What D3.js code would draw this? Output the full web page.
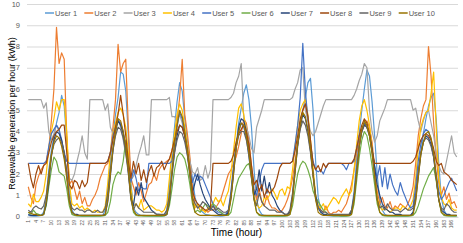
<!DOCTYPE html>
<html>
<head>
<meta charset="utf-8">
<script src="https://cdn.jsdelivr.net/npm/d3@7"></script>
<style>
  body { margin: 0; background: #fff; }
  text { font-family: "Liberation Sans", Arial, sans-serif; }
</style>
</head>
<body>
<div id="chart"></div>
<script>
// hourly renewable generation (kWh), 7 days x 24 hours per user
const users = ["User 1", "User 2", "User 3", "User 4", "User 5", "User 6", "User 7", "User 8", "User 9", "User 10"];
const colors = ["#5B9BD5", "#ED7D31", "#A5A5A5", "#FFC000", "#4472C4", "#70AD47", "#264478", "#9E480E", "#636363", "#997300"];
const yTicks = [0, 1, 2, 3, 4, 5, 6, 7, 8, 9, 10];
const hours = d3.range(1, 169);

const user1 = [
  0.05,0.03,0.02,0.02,0.03,0.05,0.2,0.9,2.2,3.1,3.8,4.4,4.9,5.7,5.2,3.6,1.4,0.3,0.1,0.05,0.03,0.02,0.02,0.02,
  0.02,0.02,0.02,0.03,0.03,0.05,0.3,1.2,2.6,3.8,4.8,5.6,6.8,6.7,5.9,3.8,1.6,0.4,0.2,0.1,0.05,0.05,0.04,0.03,
  0.03,0.03,0.02,0.02,0.02,0.04,0.3,1.4,3.0,4.2,5.4,6.3,5.9,4.6,3.6,2.6,1.8,0.9,0.5,0.3,0.2,0.1,0.08,0.05,
  0.04,0.03,0.03,0.02,0.03,0.05,0.2,0.9,2.2,3.3,4.4,5.1,5.8,6.2,5.5,4.2,2.2,0.8,0.3,0.1,0.05,0.04,0.03,0.03,
  0.03,0.02,0.02,0.02,0.03,0.05,0.2,1.0,2.3,3.4,4.3,5.0,5.6,6.3,6.5,5.0,2.6,0.9,0.3,0.1,0.05,0.04,0.03,0.03,
  0.03,0.03,0.02,0.02,0.03,0.05,0.3,1.2,2.7,3.9,5.0,6.0,6.9,6.6,5.4,3.8,2.0,0.7,0.3,0.1,0.05,0.04,0.03,0.03,
  0.03,0.03,0.02,0.02,0.03,0.05,0.2,0.9,2.1,3.0,3.9,4.6,5.2,5.6,5.8,4.6,2.5,0.9,0.3,0.1,0.05,0.04,0.03,0.03
];
const user2 = [
  1.4,0.9,0.6,1.5,1.9,2.2,2.4,2.6,3.2,4.5,6.0,8.9,7.2,7.7,7.4,3.8,1.5,1.7,1.3,0.8,1.2,0.6,0.9,0.5,
  0.5,0.8,1.0,1.3,1.8,2.1,2.4,2.5,3.0,4.2,5.5,8.1,6.8,7.2,7.4,4.2,1.8,1.4,1.0,1.6,1.2,0.7,1.1,1.5,
  1.6,2.0,1.7,2.2,2.4,2.5,2.6,2.7,3.1,3.6,4.5,5.6,7.4,4.8,3.9,2.8,1.3,0.6,0.4,0.5,0.3,0.3,0.2,0.3,
  0.3,0.4,0.6,0.8,1.2,1.6,2.0,2.2,2.5,2.8,3.3,3.9,4.6,4.4,3.6,2.4,1.3,0.8,1.3,0.7,0.5,1.0,0.6,0.4,
  0.4,0.3,0.2,0.3,0.5,0.8,1.2,1.8,2.6,3.5,4.4,5.0,5.3,4.6,3.4,2.0,1.0,0.5,0.3,0.2,0.5,0.2,0.1,0.2,
  0.2,0.3,0.2,0.4,0.6,1.0,1.5,2.2,3.0,3.6,4.0,4.3,4.5,4.2,3.5,2.3,1.2,0.6,0.9,0.5,0.4,0.7,0.3,0.5,
  0.4,0.6,0.5,0.4,0.6,0.9,1.4,2.5,3.8,4.6,5.2,5.5,8.0,6.6,4.4,2.8,1.6,1.0,1.4,0.8,1.1,0.6,0.7,0.4
];
const user3 = [
  5.5,5.5,5.5,5.5,5.5,5.5,5.1,5.35,4.0,3.6,3.9,4.3,4.0,3.5,2.8,2.2,1.8,1.7,2.0,2.6,3.1,3.8,3.0,2.7,
  5.5,5.5,5.5,5.5,5.5,5.5,5.0,5.3,4.2,3.9,4.3,4.6,4.2,3.6,2.9,2.3,1.7,1.9,2.4,2.9,3.3,3.8,2.9,2.9,
  5.5,5.5,5.5,5.5,5.5,5.5,5.5,5.6,4.7,4.7,4.5,4.8,4.4,3.8,3.3,2.6,2.1,2.0,2.3,1.7,1.8,2.4,1.8,2.2,
  5.5,5.5,5.5,5.5,5.5,5.5,5.5,5.6,5.8,6.3,6.6,7.2,4.6,4.2,3.8,3.2,3.0,4.2,4.6,5.0,5.5,5.5,5.5,5.5,
  5.5,5.5,5.5,5.5,5.5,5.5,5.5,5.6,6.0,6.3,6.9,7.0,5.0,4.5,4.0,3.8,4.0,4.4,4.8,5.2,5.5,5.5,5.5,5.5,
  5.5,5.5,5.5,5.5,5.5,5.5,5.5,5.7,6.0,6.4,6.7,7.2,7.0,5.0,4.0,3.5,3.8,4.5,4.8,5.1,5.5,5.5,5.5,5.5,
  5.5,5.5,5.5,5.5,5.5,5.5,5.0,5.1,4.5,4.0,4.5,4.9,5.0,4.4,3.8,3.0,2.4,2.1,2.0,2.6,3.2,3.8,3.0,2.8
];
const user4 = [
  0.6,0.45,1.05,0.7,0.7,0.9,1.2,2.0,3.2,4.0,4.6,5.4,5.0,5.5,5.5,3.9,1.6,0.6,0.5,0.6,0.4,0.5,0.3,0.4,
  0.3,0.2,0.3,0.2,0.2,0.2,0.5,1.6,3.0,3.9,4.4,4.9,5.1,4.8,4.2,3.0,1.3,0.5,0.6,0.4,0.8,0.3,0.4,0.5,
  0.5,0.4,0.3,0.3,0.2,0.3,0.6,1.8,3.0,3.9,4.8,5.3,5.0,4.2,3.3,2.2,1.0,0.4,0.6,0.3,0.3,0.2,0.4,0.5,
  0.6,0.9,0.7,0.8,0.5,0.9,1.2,2.0,3.1,4.2,5.1,5.3,4.8,4.0,3.1,2.0,0.9,0.6,0.4,0.5,0.9,0.8,1.0,1.3,
  1.1,0.8,1.2,1.3,1.0,1.4,1.3,2.2,3.3,4.3,5.0,5.3,5.5,4.8,3.6,2.3,1.0,0.5,0.4,0.6,0.3,0.5,0.7,0.9,
  0.8,0.6,0.9,1.1,1.3,1.0,1.2,2.2,3.4,4.5,5.2,5.5,5.0,4.3,3.2,2.0,0.9,0.5,0.3,0.4,0.3,0.2,0.3,0.4,
  0.4,0.3,0.5,0.4,0.3,0.5,0.8,1.8,3.2,4.2,4.6,4.9,5.0,5.8,6.8,4.2,1.8,0.9,0.6,0.5,0.8,0.4,0.3,0.3
];
const user5 = [
  2.5,2.5,2.5,2.5,2.5,2.5,2.5,2.6,3.3,3.9,4.1,4.3,4.1,3.6,3.0,2.6,2.5,2.5,2.5,2.5,2.5,2.5,2.5,2.5,
  2.5,2.5,2.5,2.5,2.5,2.5,2.5,2.6,3.0,3.8,4.2,4.5,4.4,4.0,3.2,2.3,1.6,2.2,1.8,1.2,1.4,1.3,1.3,2.5,
  2.5,2.5,2.5,2.5,2.5,2.5,2.5,2.5,2.6,3.4,4.2,4.9,4.6,3.8,2.9,2.2,1.6,2.0,1.7,1.9,1.8,1.5,1.2,0.9,
  0.6,0.3,0.2,0.2,0.1,0.1,0.3,1.2,2.4,3.3,4.0,4.4,4.2,3.7,2.8,1.8,1.2,1.0,1.6,2.2,2.5,2.5,2.5,2.5,
  2.5,2.5,2.5,2.5,2.5,2.5,2.5,2.6,3.4,4.3,5.6,8.15,5.9,4.6,3.4,2.6,2.2,2.1,2.2,2.0,2.3,2.5,2.5,2.5,
  2.5,2.5,2.5,2.4,2.2,2.5,2.5,2.6,3.2,3.8,4.1,4.4,4.2,3.8,3.1,2.4,1.8,2.4,1.4,2.3,1.3,2.0,1.5,1.2,
  1.0,1.6,1.2,0.9,0.6,0.4,0.5,1.4,2.6,3.4,3.9,4.1,4.0,3.6,2.9,2.0,1.2,0.8,1.0,1.3,1.6,1.8,1.5,1.2
];
const user6 = [
  0.2,0.1,0.3,0.15,0.1,0.05,0.1,0.5,1.4,2.2,2.8,2.6,2.1,2.0,1.9,1.3,0.5,0.1,0.05,0.03,0.03,0.02,0.02,0.02,
  0.02,0.02,0.02,0.02,0.02,0.03,0.05,0.2,0.7,1.5,1.9,2.1,2.0,2.6,3.6,2.4,0.9,0.2,0.05,0.03,0.03,0.02,0.02,0.02,
  0.02,0.02,0.02,0.02,0.02,0.03,0.1,0.5,1.3,2.2,2.8,3.0,2.9,2.7,2.2,1.5,0.6,0.2,0.3,0.2,0.4,0.6,0.5,0.4,
  0.6,0.5,0.3,0.2,0.1,0.05,0.05,0.2,0.8,1.4,1.8,2.0,2.2,2.4,2.5,1.9,0.8,0.2,0.05,0.03,0.02,0.02,0.02,0.02,
  0.02,0.02,0.02,0.02,0.02,0.03,0.1,0.5,1.3,2.0,2.4,2.6,2.5,2.2,1.8,1.2,0.9,0.7,0.5,0.3,0.2,0.1,0.05,0.03,
  0.03,0.03,0.02,0.02,0.02,0.03,0.1,0.6,1.7,2.8,3.6,4.0,3.8,3.2,2.4,1.5,0.6,0.2,0.05,0.03,0.02,0.02,0.02,0.02,
  0.02,0.02,0.02,0.02,0.02,0.03,0.05,0.2,0.5,0.9,1.3,1.6,1.9,2.1,2.3,1.7,0.8,0.2,0.05,0.03,0.02,0.02,0.02,0.02
];
const user7 = [
  0.1,0.05,0.05,0.05,0.05,0.05,0.1,0.6,1.6,2.8,3.6,4.0,3.9,3.6,3.0,2.0,0.8,0.2,0.1,0.1,0.05,0.05,0.05,0.05,
  0.05,0.05,0.05,0.05,0.05,0.05,0.1,0.7,1.9,3.1,4.0,4.5,4.3,3.9,3.2,2.1,0.9,0.5,1.4,1.0,1.6,0.9,0.7,0.5,
  0.3,0.2,0.1,0.1,0.05,0.05,0.1,0.7,1.9,3.0,3.8,4.3,4.2,3.8,3.0,2.0,1.1,1.6,2.0,1.5,1.1,0.8,0.6,0.4,
  0.3,0.2,0.1,0.1,0.05,0.05,0.2,0.9,2.0,3.2,4.2,4.6,4.5,4.0,3.1,2.0,1.0,1.3,2.2,1.2,1.9,1.1,1.6,1.0,
  0.8,0.5,0.3,0.2,0.1,0.1,0.2,0.9,2.1,3.3,4.2,4.8,4.6,4.0,3.1,2.0,1.0,0.4,0.2,0.1,0.1,0.05,0.05,0.05,
  0.05,0.05,0.05,0.05,0.05,0.05,0.2,0.9,2.1,3.3,4.0,4.3,4.2,3.9,3.2,2.3,1.5,1.0,0.6,0.4,0.3,0.2,0.2,0.1,
  0.1,0.1,0.05,0.05,0.05,0.05,0.2,0.8,1.9,2.9,3.5,3.8,3.7,3.4,2.8,1.8,0.8,0.3,0.2,0.1,0.1,0.05,0.05,0.05
];
const user8 = [
  2.5,1.8,1.35,2.0,2.4,2.0,2.4,2.5,3.0,3.5,3.8,4.0,4.1,4.3,4.3,3.0,1.5,1.3,1.7,1.6,1.3,1.7,1.4,1.6,
  2.5,2.5,2.5,2.5,2.5,2.5,2.5,2.6,3.0,3.6,4.2,4.8,5.7,4.8,3.8,2.6,1.8,2.6,2.0,2.5,1.7,2.2,1.6,2.1,
  2.4,1.9,2.3,2.4,2.6,2.2,2.5,2.7,3.1,3.6,4.0,4.3,4.2,3.8,3.2,2.2,1.2,0.8,0.6,0.5,0.4,0.3,0.3,0.4,
  2.5,2.5,2.5,2.5,2.5,2.5,2.5,2.6,2.9,3.5,3.9,4.1,4.3,4.0,3.4,2.4,1.5,1.7,1.2,1.5,0.9,1.3,1.1,1.2,
  1.4,1.8,2.3,2.5,2.5,2.5,2.5,2.6,3.1,3.8,4.6,5.0,5.3,4.7,3.6,2.5,2.2,2.4,2.1,2.5,2.3,2.5,2.5,2.5,
  2.5,2.5,2.5,2.5,2.5,2.5,2.5,2.7,3.2,3.8,4.3,4.6,4.4,3.9,3.1,2.5,2.5,2.5,2.5,2.5,2.5,2.5,2.5,2.5,
  2.5,2.5,2.5,2.5,2.5,2.5,2.6,2.8,3.2,3.6,3.8,3.9,3.8,3.6,3.2,2.6,2.4,2.5,2.1,2.0,1.9,1.7,1.6,1.5
];
const user9 = [
  0.3,0.2,0.4,0.5,0.4,0.35,0.5,1.0,2.0,2.9,3.4,3.6,3.7,3.5,3.0,2.0,0.8,0.4,0.3,0.4,0.3,0.3,0.2,0.3,
  0.3,0.2,0.2,0.3,0.2,0.2,0.4,1.1,2.2,3.1,3.8,4.2,4.1,3.7,3.0,2.0,0.8,0.3,0.6,0.4,0.3,0.2,0.2,0.2,
  0.2,0.2,0.1,0.1,0.1,0.1,0.3,1.0,2.1,3.0,3.6,4.0,3.9,3.5,2.9,1.9,0.9,0.6,0.4,0.5,0.7,0.6,0.4,0.3,
  0.5,0.3,0.4,0.3,0.2,0.2,0.3,1.0,2.2,3.2,3.8,4.0,4.0,3.6,2.9,1.8,0.8,0.5,1.1,0.7,0.5,0.4,0.3,0.3,
  0.3,0.2,0.2,0.2,0.1,0.1,0.3,1.1,2.3,3.4,4.1,4.5,4.3,3.8,3.0,1.9,0.8,0.4,0.3,0.2,0.2,0.1,0.1,0.1,
  0.1,0.1,0.1,0.1,0.1,0.1,0.3,1.0,2.2,3.3,4.0,4.4,4.2,3.8,3.0,1.9,0.8,0.4,0.5,0.3,0.6,0.4,0.3,0.3,
  0.3,0.2,0.3,0.4,0.3,0.3,0.4,1.0,2.1,3.0,3.5,3.7,3.6,3.3,2.8,1.8,0.8,0.4,0.3,0.6,0.5,0.3,0.2,0.2
];
const user10 = [
  0.2,0.15,0.1,0.1,0.05,0.05,0.1,0.7,1.8,2.9,3.5,3.8,3.7,3.3,2.7,1.8,0.7,0.2,0.1,0.05,0.05,0.05,0.05,0.05,
  0.05,0.05,0.05,0.05,0.05,0.05,0.1,0.8,2.0,3.2,4.0,4.6,4.5,4.0,3.3,2.2,0.9,0.3,0.1,0.05,0.05,0.05,0.05,0.05,
  0.05,0.05,0.05,0.05,0.05,0.05,0.1,0.8,2.1,3.4,4.3,5.0,4.7,4.0,3.1,2.0,0.8,0.2,0.1,0.05,0.05,0.05,0.05,0.05,
  0.05,0.05,0.05,0.05,0.05,0.05,0.1,0.8,2.0,3.2,4.0,4.4,4.3,3.8,3.0,1.9,0.8,0.2,0.1,0.05,0.05,0.05,0.05,0.05,
  0.05,0.05,0.05,0.05,0.05,0.05,0.1,0.8,2.1,3.4,4.3,4.9,4.7,4.1,3.2,2.0,0.8,0.2,0.1,0.05,0.05,0.05,0.05,0.05,
  0.05,0.05,0.05,0.05,0.05,0.05,0.1,0.8,2.0,3.3,4.1,4.5,4.3,3.8,3.0,1.9,0.8,0.2,0.1,0.05,0.05,0.05,0.05,0.05,
  0.05,0.05,0.05,0.05,0.05,0.05,0.1,0.7,1.8,2.9,3.5,3.9,4.0,3.7,3.0,1.9,0.8,0.2,0.1,0.05,0.05,0.05,0.05,0.05
];
const series = [user1, user2, user3, user4, user5, user6, user7, user8, user9, user10];

const width = 463, height = 243;
const plotLeft = 27, plotRight = 458, plotTop = 4, plotBottom = 216.5;

const svg = d3.select("#chart").append("svg")
    .attr("width", width).attr("height", height);

const x = d3.scaleBand().domain(hours).range([plotLeft, plotRight]);
const y = d3.scaleLinear().domain([0, 10]).range([plotBottom, plotTop]);

// gridlines
svg.append("g").selectAll("line")
    .data(yTicks)
    .enter().append("line")
    .attr("x1", plotLeft).attr("x2", plotRight)
    .attr("y1", d => y(d) + 0.5).attr("y2", d => y(d) + 0.5)
    .attr("stroke", "#D9D9D9").attr("stroke-width", 1);

// y tick labels
svg.append("g").selectAll("text")
    .data(yTicks)
    .enter().append("text")
    .attr("x", 20).attr("y", d => y(d))
    .attr("dy", "0.35em")
    .attr("text-anchor", "end")
    .attr("font-size", 7.5)
    .attr("fill", "#595959")
    .text(d => d);

// x axis with every third hour
const xAxis = svg.append("g")
    .attr("transform", `translate(0,${plotBottom + 0.5})`)
    .call(d3.axisBottom(x).tickValues(hours.filter((d, i) => i % 3 === 0)).tickSize(0));
xAxis.select(".domain").attr("stroke", "#D9D9D9");
xAxis.selectAll("text")
    .attr("transform", "rotate(-90)")
    .attr("x", -3).attr("y", 0).attr("dy", "0.35em")
    .style("text-anchor", "end")
    .attr("font-size", 5)
    .attr("font-family", "Liberation Sans, Arial, sans-serif")
    .attr("fill", "#595959");

// lines
const line = d3.line()
    .x((d, i) => x(hours[i]) + x.bandwidth() / 2)
    .y(d => y(d));

svg.append("g").selectAll("path")
    .data(series)
    .enter().append("path")
    .attr("d", line)
    .attr("fill", "none")
    .attr("stroke", (d, i) => colors[i])
    .attr("stroke-width", 1.2)
    .attr("stroke-linejoin", "round");

// legend
const legend = svg.append("g").selectAll("g")
    .data(users)
    .enter().append("g")
    .attr("transform", (d, i) => `translate(${45 + i * 39.3},13)`);
legend.append("line")
    .attr("x1", 0).attr("x2", 9)
    .attr("stroke", (d, i) => colors[i])
    .attr("stroke-width", 1.5);
legend.append("text")
    .attr("x", 10).attr("dy", "0.35em")
    .attr("font-size", 7.5)
    .attr("fill", "#595959")
    .text(d => d);

// axis titles
svg.append("text")
    .attr("x", 236.5).attr("y", 236)
    .attr("text-anchor", "middle")
    .attr("font-size", 10)
    .attr("fill", "#000")
    .text("Time (hour)");

svg.append("text")
    .attr("transform", "translate(15,113.5) rotate(-90)")
    .attr("text-anchor", "middle")
    .attr("font-size", 9)
    .attr("fill", "#000")
    .text("Renewable generation per hour (kWh)");
</script>
</body>
</html>
